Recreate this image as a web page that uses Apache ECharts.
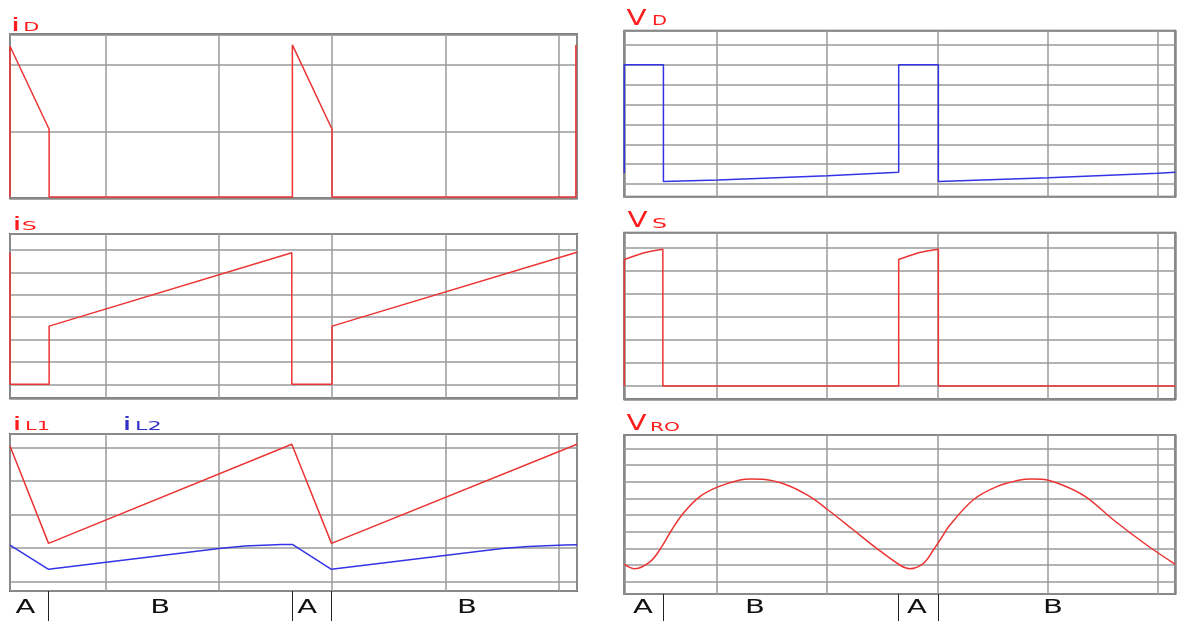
<!DOCTYPE html>
<html lang="en">
<head>
  <meta charset="UTF-8">
  <title>波形</title>
  <style type="text/css">
    html, body { margin: 0; padding: 0; background: #fff; }
    #main { width: 1177px; height: 621px; }
  </style>
</head>
<body>
  <div id="main"></div>
</body>
<script type="text/javascript" src="https://cdn.jsdelivr.net/npm/echarts@6/dist/echarts.min.js"></script>
<script type="text/javascript">
  // common time axis (both columns), grid lines every 20
  var tMin = 3.2, tMax = 103.2

  // iD
  var iD_t = [3.2, 3.2, 10.1, 10.1, 53.0, 53.0, 60.0, 60.0, 103.0, 103.0]
  var iD_v = [0.02, 2.27, 1.03, 0.02, 0.02, 2.29, 1.03, 0.02, 0.02, 2.29]
  // iS
  var iS_t = [3.2, 3.2, 10.1, 10.1, 52.9, 52.9, 60.0, 60.0, 103.2]
  var iS_v = [5.88, 0, 0, 2.60, 5.88, 0, 0, 2.60, 5.90]
  // iL1 / iL2
  var iL1_t = [3.2, 10.0, 52.9, 59.9, 103.2]
  var iL1_v = [4.04, 1.14, 4.09, 1.14, 4.09]
  var iL2_t = [3.2, 10.0, 40.1, 44.6, 51.1, 53.0, 59.9, 90.0, 94.6, 101.0, 103.2]
  var iL2_v = [1.09, 0.37, 0.99, 1.06, 1.11, 1.11, 0.37, 0.99, 1.05, 1.09, 1.10]
  // VD
  var vD_t = [3.2, 3.2, 10.3, 10.3, 20.2, 40.1, 53.0, 53.0, 60.2, 60.2, 80.2, 100.0, 103.2]
  var vD_v = [0.55, 6.0, 6.0, 0.12, 0.2, 0.42, 0.59, 6.0, 6.0, 0.12, 0.32, 0.54, 0.59]
  // VS
  var vS_t = [3.2, 3.2, 5.0, 6.8, 8.5, 10.2, 10.2, 53.0, 53.0, 54.8, 56.6, 58.4, 60.2, 60.2, 103.2]
  var vS_v = [0, 5.48, 5.63, 5.77, 5.86, 5.92, 0, 0, 5.48, 5.63, 5.77, 5.86, 5.92, 0, 0]
  // VR0
  var vR_t = [3.2, 5.1, 7.9, 10.0, 11.8, 13.9, 16.9, 20.3, 24.2, 26.3, 28.4, 32.7, 36.9, 40.2, 44.8, 49.0,
    53.2, 55.0, 57.5, 59.3, 60.5, 62.3, 66.5, 70.8, 75.0, 77.0, 79.0, 82.7, 86.9, 92.0, 98.0, 103.2]
  var vR_v = [1.04, 0.78, 1.2, 2.1, 3.1, 4.1, 5.1, 5.7, 6.1, 6.16, 6.14, 5.8, 5.1, 4.3, 3.1, 2.0,
    1.0, 0.78, 1.1, 1.9, 2.5, 3.4, 4.9, 5.7, 6.1, 6.16, 6.14, 5.8, 5.1, 3.7, 2.2, 1.04]

  // A / B phase strips
  var phaseNames = ['A', 'B', 'A', 'B']
  var phaseL_t = [5.9, 29.7, 55.6, 83.8]
  var phaseR_t = [6.6, 26.9, 56.3, 81.0]
  var edgesL = [10.0, 52.95, 59.9]
  var edgesR = [10.3, 53.0, 60.2]

  var red = '#ec3434', blue = '#3434e6', txtRed = '#ff1c1c', txtBlue = '#3030c8'

  function pts(t, v) {
    return t.map(function (x, i) { return [x, v[i]] })
  }

  // panels: grid rect + y range
  var panels = [
    { left: 10, top: 34.3, width: 567, height: 164, y: [0, 2.448] },
    { left: 10, top: 234, width: 567, height: 164.3, y: [-0.626, 6.716] },
    { left: 10, top: 434, width: 567, height: 157, y: [-0.277, 4.396] },
    { left: 624.3, top: 30.7, width: 551, height: 166, y: [-0.64, 7.72] },
    { left: 624.3, top: 232.7, width: 551, height: 166.6, y: [-0.576, 6.64] },
    { left: 624.3, top: 435, width: 551, height: 159, y: [-0.74, 8.80] },
    { left: 10, top: 591, width: 567, height: 30, y: [0, 30], strip: true },
    { left: 624.3, top: 594, width: 551, height: 27, y: [0, 27], strip: true }
  ]

  var hidden = { axisLabel: { show: false }, axisTick: { show: false }, axisLine: { show: false } }
  var gridLine = { color: '#9a9a9a', width: 1.5 }

  var grids = [], xAxes = [], yAxes = []
  panels.forEach(function (p, i) {
    grids.push({ left: p.left, top: p.top, width: p.width, height: p.height, show: !p.strip, borderColor: '#5a5a5a', borderWidth: 2 })
    xAxes.push(Object.assign({ gridIndex: i, type: 'value', min: tMin, max: tMax, minInterval: 20, maxInterval: 20,
      splitLine: { show: !p.strip, lineStyle: gridLine } }, hidden))
    yAxes.push(Object.assign({ gridIndex: i, type: 'value', min: p.y[0], max: p.y[1], minInterval: 1, maxInterval: 1,
      splitLine: { show: !p.strip, lineStyle: gridLine } }, hidden))
  })

  function wave(idx, t, v, color, smooth) {
    return { type: 'line', xAxisIndex: idx, yAxisIndex: idx, data: pts(t, v), showSymbol: false, smooth: smooth || false,
      lineStyle: { color: color, width: 1.5 }, animation: false }
  }

  function renderPhase(params, api) {
    var p = api.coord([api.value(0), api.value(1)])
    return { type: 'text', x: p[0], y: p[1], scaleX: 1.45,
      style: { text: phaseNames[params.dataIndex], fontSize: 20, fontFamily: 'DejaVu Sans', fill: '#111', align: 'center', verticalAlign: 'middle' } }
  }

  function strip(idx, t, edges) {
    return { type: 'custom', xAxisIndex: idx, yAxisIndex: idx, renderItem: renderPhase, animation: false,
      data: t.map(function (x) { return [x, 13] }),
      markLine: { silent: true, symbol: 'none', animation: false, label: { show: false },
        lineStyle: { color: '#222', width: 1, type: 'solid' },
        data: edges.map(function (x) { return { xAxis: x } }) } }
  }

  // titles: [x, baseline, text, fontSize, scaleX, colour]
  var titles = [
    [10.5, 31.7, 'i', 18, 2.0, txtRed], [23.3, 31.7, 'D', 12.5, 1.67, txtRed],
    [626.5, 26, 'V', 22, 1.33, txtRed], [652, 26, 'D', 13.7, 1.43, txtRed],
    [12, 230.7, 'i', 18, 2.0, txtRed], [21.7, 230.7, 'S', 12.5, 1.9, txtRed],
    [627.5, 228.3, 'V', 22, 1.33, txtRed], [652, 228.3, 'S', 14, 1.69, txtRed],
    [12, 430.7, 'i', 18, 2.0, txtRed], [25, 430.7, 'L1', 12.5, 1.68, txtRed],
    [122, 430.7, 'i', 18, 2.0, txtBlue], [135, 430.7, 'L2', 12.5, 1.8, txtBlue],
    [626.5, 431, 'V', 22, 1.33, txtRed], [650, 431, 'RO', 12.5, 1.62, txtRed]
  ]
  var graphics = titles.map(function (a) {
    return { type: 'text', x: a[0], y: a[1] - 0.3 * a[3], scaleX: a[4], silent: true,
      style: { text: a[2], fontSize: a[3], fontFamily: 'DejaVu Sans', fill: a[5], verticalAlign: 'middle' } }
  })

  var myChart = echarts.init(document.getElementById('main'))
  myChart.setOption({
    animation: false,
    grid: grids,
    xAxis: xAxes,
    yAxis: yAxes,
    graphic: graphics,
    series: [
      wave(0, iD_t, iD_v, red),
      wave(1, iS_t, iS_v, red),
      wave(2, iL1_t, iL1_v, red),
      wave(2, iL2_t, iL2_v, blue),
      wave(3, vD_t, vD_v, blue),
      wave(4, vS_t, vS_v, red),
      wave(5, vR_t, vR_v, red, 0.35),
      strip(6, phaseL_t, edgesL),
      strip(7, phaseR_t, edgesR)
    ]
  })
</script>
</html>
